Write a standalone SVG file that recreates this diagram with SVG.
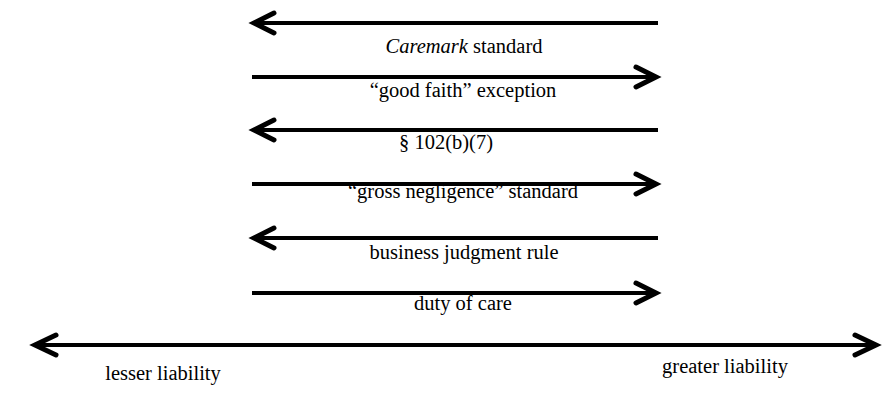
<svg xmlns="http://www.w3.org/2000/svg" width="894" height="404" viewBox="0 0 894 404">
<style>
.ln{stroke:#000;stroke-width:4;fill:none}
.hd{stroke:#000;stroke-width:5;fill:none;stroke-linejoin:miter;stroke-linecap:round}
text{font-family:"Liberation Serif","Times New Roman",serif;font-size:20.5px;fill:#000;text-anchor:middle}
</style>
<rect width="894" height="404" fill="#fff"/>
<g id="connectors">
<g id="a1"><path class="ln" d="M254 23H658"/><path class="hd" d="M274 13L254 23L274 33"/></g>
<g id="a2"><path class="ln" d="M252 77H655"/><path class="hd" d="M636 67L656 77L636 87"/></g>
<g id="a3"><path class="ln" d="M254 130H658"/><path class="hd" d="M274 120L254 130L274 140"/></g>
<g id="a4"><path class="ln" d="M252 184H655"/><path class="hd" d="M636 174L656 184L636 194"/></g>
<g id="a5"><path class="ln" d="M254 238H658"/><path class="hd" d="M274 228L254 238L274 248"/></g>
<g id="a6"><path class="ln" d="M252 293H655"/><path class="hd" d="M636 283L656 293L636 303"/></g>
<g id="axis"><path class="ln" d="M36 345H874"/><path class="hd" d="M56 335L35 345L56 355"/><path class="hd" d="M855 335L876 345L855 355"/></g>
</g>
<g id="labels">
<g id="t1"><text x="464" y="53"><tspan font-style="italic">Caremark</tspan> standard</text></g>
<g id="t2"><text x="463" y="97">“good faith” exception</text></g>
<g id="t3"><text x="446" y="149">§ 102(b)(7)</text></g>
<g id="t4"><text x="463" y="198">“gross negligence” standard</text></g>
<g id="t5"><text x="464" y="259">business judgment rule</text></g>
<g id="t6"><text x="463" y="310">duty of care</text></g>
<g id="t7"><text x="163" y="380">lesser liability</text></g>
<g id="t8"><text x="725" y="373">greater liability</text></g>
</g>
</svg>
